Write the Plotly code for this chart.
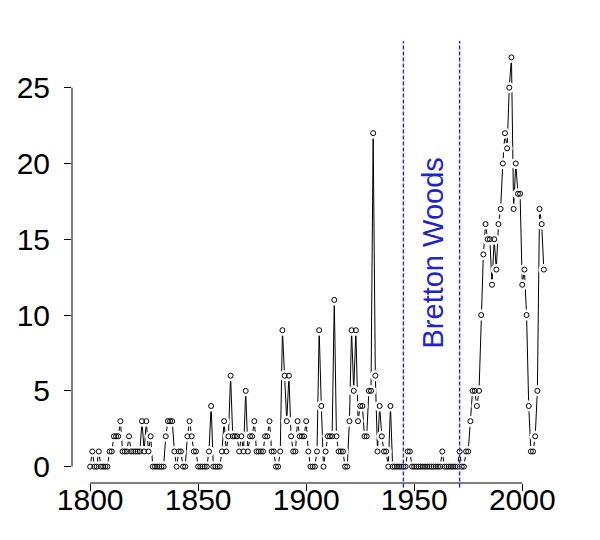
import plotly.graph_objects as go

# ---- data ----
start_year = 1800
counts_1800s = [0, 1, 0, 0, 1, 0, 0, 0, 0, 1]
counts_1810s = [1, 2, 2, 2, 3, 1, 1, 1, 2, 1]
counts_1820s = [1, 1, 1, 1, 3, 1, 3, 1, 2, 0]
counts_1830s = [0, 0, 0, 0, 0, 2, 3, 3, 3, 1]
counts_1840s = [0, 1, 1, 0, 0, 2, 3, 2, 1, 1]
counts_1850s = [0, 0, 0, 0, 0, 1, 4, 0, 0, 0]
counts_1860s = [0, 1, 3, 1, 2, 6, 2, 2, 2, 1]
counts_1870s = [2, 1, 5, 1, 2, 2, 3, 1, 1, 1]
counts_1880s = [1, 2, 2, 3, 1, 1, 0, 0, 1, 9]
counts_1890s = [6, 3, 6, 2, 1, 1, 3, 2, 2, 2]
counts_1900s = [3, 1, 0, 0, 0, 1, 9, 4, 0, 1]
counts_1910s = [2, 2, 2, 11, 2, 1, 1, 1, 0, 0]
counts_1920s = [3, 9, 5, 9, 3, 4, 4, 2, 2, 5]
counts_1930s = [5, 22, 6, 1, 4, 2, 1, 1, 0, 4]
counts_1940s = [0, 0, 0, 0, 0, 0, 0, 1, 1, 0]
counts_1950s = [0, 0, 0, 0, 0, 0, 0, 0, 0, 0]
counts_1960s = [0, 0, 0, 1, 0, 0, 0, 0, 0, 0]
counts_1970s = [0, 1, 0, 0, 1, 1, 3, 5, 5, 4]
counts_1980s = [5, 10, 14, 16, 15, 15, 12, 15, 13, 16]
counts_1990s = [17, 20, 22, 21, 25, 27, 17, 20, 18, 18]
counts_2000s = [12, 13, 10, 4, 1, 1, 2, 5, 17, 16]
counts_2010s = [13]

bretton_woods = [1945, 1971]
bretton_label = "Bretton Woods"
x_ticks = [1800, 1850, 1900, 1950, 2000]
y_ticks = [0, 5, 10, 15, 20, 25]

counts = (counts_1800s + counts_1810s + counts_1820s + counts_1830s + counts_1840s
          + counts_1850s + counts_1860s + counts_1870s + counts_1880s + counts_1890s
          + counts_1900s + counts_1910s + counts_1920s + counts_1930s + counts_1940s
          + counts_1950s + counts_1960s + counts_1970s + counts_1980s + counts_1990s
          + counts_2000s + counts_2010s)
years = [start_year + i for i in range(len(counts))]

# R-like 4% padding of the axis ranges
xpad = 0.04 * (max(years) - min(years))
ypad = 0.04 * (max(counts) - min(counts))
xr = [min(years) - xpad, max(years) + xpad]
yr = [min(counts) - ypad, max(counts) + ypad]

BLUE = "#2424e6"
TEXT_BLUE = "#1f26c4"
FONT = "Liberation Sans, Arial, sans-serif"

fig = go.Figure()
# connecting line
fig.add_trace(go.Scatter(x=years, y=counts, mode="lines",
                         line=dict(color="black", width=1), hoverinfo="skip"))
# white masks give the R type="b" gaps around the points
fig.add_trace(go.Scatter(x=years, y=counts, mode="markers",
                         marker=dict(symbol="circle", size=11, color="white",
                                     line=dict(width=0)), hoverinfo="skip"))
# open circles
fig.add_trace(go.Scatter(x=years, y=counts, mode="markers",
                         marker=dict(symbol="circle-open", size=5, color="black",
                                     line=dict(width=1, color="black"))))

shapes = []
for yv in bretton_woods:
    shapes.append(dict(type="line", xref="x", yref="paper", x0=yv, x1=yv, y0=-0.01, y1=1,
                       line=dict(color=BLUE, width=1.4, dash="4px,2px"), layer="above"))
# R-style axis lines spanning only the tick range
shapes.append(dict(type="line", xref="x", yref="paper", x0=x_ticks[0], x1=x_ticks[-1],
                   y0=0, y1=0, line=dict(color="black", width=1)))
shapes.append(dict(type="line", xref="paper", yref="y", x0=0, x1=0,
                   y0=y_ticks[0], y1=y_ticks[-1], line=dict(color="black", width=1)))

fig.update_layout(
    width=592, height=532,
    margin=dict(l=64, r=38, t=33, b=57, autoexpand=False),
    paper_bgcolor="white", plot_bgcolor="white",
    showlegend=False,
    shapes=shapes,
    font=dict(family=FONT, color="black", size=30),
    xaxis=dict(range=xr, tickvals=x_ticks, ticks="outside", ticklen=7, tickwidth=1,
               tickcolor="black", showgrid=False, zeroline=False, showline=False,
               automargin=False, ticklabelstandoff=-17,
               tickfont=dict(size=30, family=FONT, color="black")),
    yaxis=dict(range=yr, tickvals=y_ticks, ticks="outside", ticklen=7, tickwidth=1,
               tickcolor="black", showgrid=False, zeroline=False, showline=False,
               automargin=False, ticklabelstandoff=8,
               tickfont=dict(size=30, family=FONT, color="black")),
    annotations=[dict(x=sum(bretton_woods) / 2 + 0.5, y=14.1, xref="x", yref="y",
                      text=bretton_label, textangle=-90, showarrow=False,
                      font=dict(size=29, family=FONT, color=TEXT_BLUE))],
)

fig.write_html("out.html")
